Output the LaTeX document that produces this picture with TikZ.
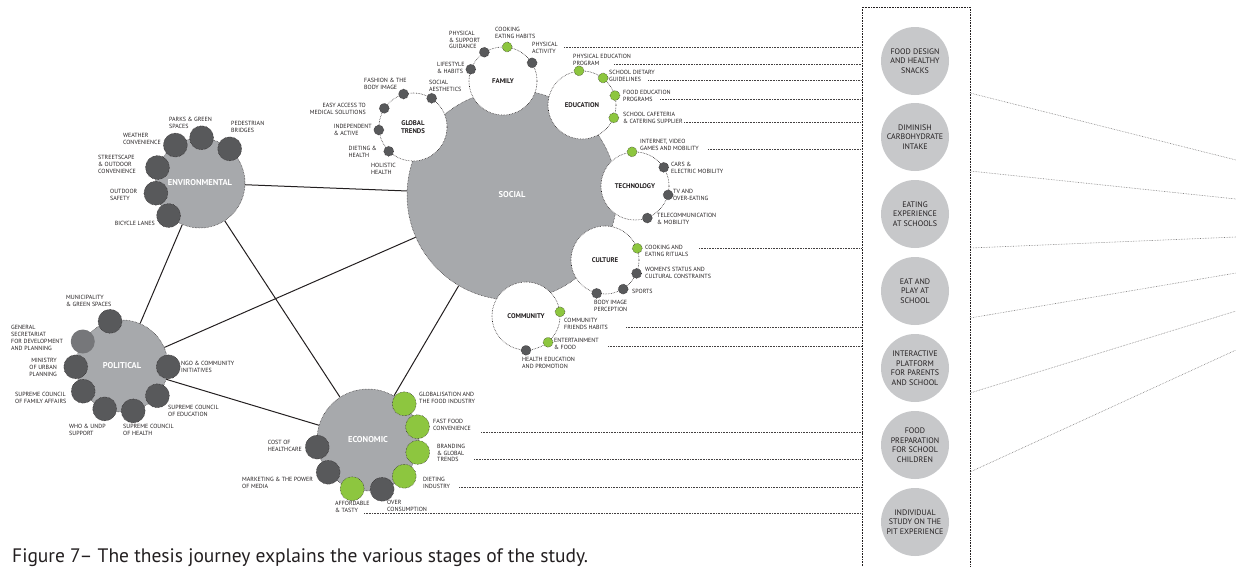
\documentclass[tikz,border=0pt]{standalone}
\usepackage{fontspec}
\setmainfont{PT Sans}
\usepackage{tikz}
\usetikzlibrary{positioning, backgrounds, calc}
\definecolor{hubGray}{HTML}{A7A9AC}
\definecolor{dotGray}{HTML}{58595B}
\definecolor{leafGreen}{HTML}{8DC63F}
\definecolor{padGray}{HTML}{C7C8CA}
\definecolor{secGray}{HTML}{76777A}
\definecolor{inkDark}{HTML}{231F20}

\begin{document}
\begin{tikzpicture}[
    x=1pt, y=-1pt,
    hub/.style={circle, fill=hubGray, draw=inkDark, densely dotted, line width=0.5pt, inner sep=0pt, minimum size=#1, text=white, font=\fontsize{8.5}{9.5}\selectfont\bfseries},
    topic/.style={circle, fill=white, draw=inkDark, densely dotted, line width=0.6pt, inner sep=0pt, minimum size=68pt, text=inkDark, align=center, font=\fontsize{6.8}{7.8}\selectfont\bfseries},
    dot/.style={circle, fill=dotGray, draw=inkDark, densely dotted, line width=0.5pt, inner sep=0pt, minimum size=10pt},
    bigdot/.style={dot, minimum size=24pt},
    leaf/.style={fill=leafGreen},
    lab/.style={inner sep=0pt, text=inkDark, align=left, font=\fontsize{6}{6.8}\selectfont},
    pad/.style={circle, fill=padGray, inner sep=0pt, minimum size=68pt, align=center, text=inkDark, font=\fontsize{8}{9.5}\selectfont},
    link/.style={line width=1pt, draw=inkDark},
    leader/.style={densely dotted, line width=0.6pt, draw=inkDark!85},
    faint/.style={densely dotted, line width=0.6pt, draw=inkDark!60}
]
\useasboundingbox (0,0) rectangle (1236,566);

% Main themes
\node[hub=210pt] (soc) at (512,195) {SOCIAL};
\node[hub=90pt] (env) at (200,183) {ENVIRONMENTAL};
\node[hub=92pt] (pol) at (122,366) {POLITICAL};
\node[hub=102pt] (eco) at (368,440) {ECONOMIC};

\begin{scope}[on background layer]
\draw[link] (env) -- (soc);
\draw[link] (env) -- (pol);
\draw[link] (env) -- (eco);
\draw[link] (pol) -- (soc);
\draw[link] (pol) -- (eco);
\draw[link] (eco) -- (soc);
\end{scope}

% Social sub-themes
\node[topic] (fam) at (503,81) {FAMILY};
\node[topic] (glob) at (413,127) {GLOBAL\\TRENDS};
\node[topic] (edu) at (582,105) {EDUCATION};
\node[topic] (tech) at (635,186) {TECHNOLOGY};
\node[topic] (cult) at (605,260) {CULTURE};
\node[topic] (comm) at (526,316) {COMMUNITY};

% Family
\node[dot] (fa1) at (fam.123) {};
\node[dot] (fa2) at (fam.160) {};
\node[dot, leaf] (fa3) at (fam.83) {};
\node[dot] (fa4) at (fam.32) {};
\node[lab, anchor=west] (fa1l) at (449,40) {PHYSICAL\\\& SUPPORT\\GUIDANCE};
\node[lab, anchor=west] (fa2l) at (437,67.5) {LIFESTYLE\\\& HABITS};
\node[lab, anchor=west] (fa3l) at (495,33) {COOKING\\EATING HABITS};
\node[lab, anchor=west] (fa4l) at (532,48) {PHYSICAL\\ACTIVITY};

% Global trends
\node[dot] (gl1) at (glob.106) {};
\node[dot] (gl2) at (glob.57) {};
\node[dot] (gl3) at (glob.147) {};
\node[dot] (gl4) at (glob.185) {};
\node[dot] (gl5) at (glob.225) {};
\node[lab, anchor=west] (gl1l) at (364,84) {FASHION \& THE\\BODY IMAGE};
\node[lab, anchor=west] (gl2l) at (429,86) {SOCIAL\\AESTHETICS};
\node[lab, anchor=east, align=right] (gl3l) at (366,109) {EASY ACCESS TO\\MEDICAL SOLUTIONS};
\node[lab, anchor=east] (gl4l) at (372,130) {INDEPENDENT\\\& ACTIVE};
\node[lab, anchor=east] (gl5l) at (377,152) {DIETING \&\\HEALTH};
\node[lab, anchor=west] (gl6l) at (371,169) {HOLISTIC\\HEALTH};

% Education
\node[dot, leaf] (ed1) at (edu.95) {};
\node[dot, leaf] (ed2) at (edu.52) {};
\node[dot, leaf] (ed3) at (edu.16) {};
\node[dot, leaf] (ed4) at (edu.338) {};
\node[lab, anchor=west] (ed1l) at (573,59.5) {PHYSICAL EDUCATION\\PROGRAM};
\node[lab, anchor=west] (ed2l) at (609,76) {SCHOOL DIETARY\\GUIDELINES};
\node[lab, anchor=west] (ed3l) at (623,95.5) {FOOD EDUCATION\\PROGRAMS};
\node[lab, anchor=west] (ed4l) at (623,118) {SCHOOL CAFETERIA\\\& CATERING SUPPLIER};

% Technology
\node[dot, leaf] (te1) at (tech.95) {};
\node[dot] (te2) at (tech.33) {};
\node[dot] (te3) at (tech.345) {};
\node[dot] (te4) at (tech.291) {};
\node[lab, anchor=west] (te1l) at (640,145) {INTERNET, VIDEO\\GAMES AND MOBILITY};
\node[lab, anchor=west] (te2l) at (671,168) {CARS \&\\ELECTRIC MOBILITY};
\node[lab, anchor=west] (te3l) at (673,195) {TV AND\\OVER-EATING};
\node[lab, anchor=west] (te4l) at (657,219) {TELECOMMUNICATION\\\& MOBILITY};

% Culture
\node[dot, leaf] (cu1) at (cult.20) {};
\node[dot] (cu2) at (cult.337) {};
\node[dot] (cu3) at (cult.302) {};
\node[dot] (cu4) at (cult.256) {};
\node[lab, anchor=west] (cu1l) at (645,251) {COOKING AND\\EATING RITUALS};
\node[lab, anchor=west] (cu2l) at (645,273) {WOMEN'S STATUS AND\\CULTURAL CONSTRAINTS};
\node[lab, anchor=west] (cu3l) at (632,291) {SPORTS};
\node[lab, anchor=west] (cu4l) at (594,306) {BODY IMAGE\\PERCEPTION};

% Community
\node[dot, leaf] (co1) at (comm.7) {};
\node[dot, leaf] (co2) at (comm.310) {};
\node[dot] (co3) at (comm.270) {};
\node[lab, anchor=west] (co1l) at (564,324) {COMMUNITY\\FRIENDS HABITS};
\node[lab, anchor=west] (co2l) at (554,344) {ENTERTAINMENT\\\& FOOD};
\node[lab, anchor=west] (co3l) at (522,363) {HEALTH EDUCATION\\AND PROMOTION};

% Environmental
\node[bigdot] (en1) at (env.123) {};
\node[bigdot] (en2) at (env.88) {};
\node[bigdot] (en3) at (env.49) {};
\node[bigdot] (en4) at (env.160) {};
\node[bigdot] (en5) at (env.193) {};
\node[bigdot] (en6) at (env.226) {};
\node[lab, anchor=east] (en1l) at (161,138.5) {WEATHER\\CONVENIENCE};
\node[lab, anchor=west] (en2l) at (169,122.5) {PARKS \& GREEN\\SPACES};
\node[lab, anchor=west] (en3l) at (231,127) {PEDESTRIAN\\BRIDGES};
\node[lab, anchor=west] (en4l) at (98,164.5) {STREETSCAPE\\\& OUTDOOR\\CONVENIENCE};
\node[lab, anchor=west] (en5l) at (110,194.5) {OUTDOOR\\SAFETY};
\node[lab, anchor=east] (en6l) at (155,223) {BICYCLE LANES};

% Political
\node[bigdot] (po1) at (pol.105) {};
\node[bigdot, fill=secGray, draw=none] (po2) at (pol.148) {};
\node[bigdot] (po3) at (pol.181) {};
\node[bigdot] (po4) at (pol.213) {};
\node[bigdot] (po5) at (pol.248) {};
\node[bigdot] (po6) at (pol.284) {};
\node[bigdot] (po7) at (pol.320) {};
\node[bigdot] (po8) at (pol.359) {};
\node[lab, anchor=west] (po1l) at (66,301) {MUNICIPALITY\\\& GREEN SPACES};
\node[lab, anchor=west] (po2l) at (11,338) {GENERAL\\SECRETARIAT\\FOR DEVELOPMENT\\AND PLANNING};
\node[lab, anchor=east, align=right] (po3l) at (57,367.5) {MINISTRY\\OF URBAN\\PLANNING};
\node[lab, anchor=west] (po4l) at (15,397.5) {SUPREME COUNCIL\\OF FAMILY AFFAIRS};
\node[lab, anchor=west] (po5l) at (69,430) {WHO \& UNDP\\SUPPORT};
\node[lab, anchor=west] (po6l) at (123,430) {SUPREME COUNCIL\\OF HEALTH};
\node[lab, anchor=west] (po7l) at (168,410.5) {SUPREME COUNCIL\\OF EDUCATION};
\node[lab, anchor=west] (po8l) at (181,366.5) {NGO \& COMMUNITY\\INITIATIVES};

% Economic
\node[bigdot, leaf] (ec1) at (eco.45) {};
\node[bigdot, leaf] (ec2) at (eco.15) {};
\node[bigdot, leaf] (ec3) at (eco.346) {};
\node[bigdot, leaf] (ec4) at (eco.315) {};
\node[bigdot] (ec5) at (eco.286) {};
\node[bigdot, leaf] (ec6) at (eco.252) {};
\node[bigdot] (ec7) at (eco.219) {};
\node[bigdot] (ec8) at (eco.188) {};
\node[lab, anchor=west] (ec1l) at (419,397.5) {GLOBALISATION AND\\THE FOOD INDUSTRY};
\node[lab, anchor=west] (ec2l) at (433,424.5) {FAST FOOD\\CONVENIENCE};
\node[lab, anchor=west] (ec3l) at (437,453) {BRANDING\\\& GLOBAL\\TRENDS};
\node[lab, anchor=west] (ec4l) at (423,482.5) {DIETING\\INDUSTRY};
\node[lab, anchor=west] (ec5l) at (387,505.5) {OVER\\CONSUMPTION};
\node[lab, anchor=west] (ec6l) at (335,507) {AFFORDABLE\\\& TASTY};
\node[lab, anchor=west] (ec7l) at (242,483) {MARKETING \& THE POWER\\OF MEDIA};
\node[lab, anchor=east] (ec8l) at (302,445.5) {COST OF\\HEALTHCARE};

% Proposals column
\coordinate (boxL) at (862,7);
\coordinate (boxR) at (970,7);
\draw[densely dotted, line width=0.6pt, draw=inkDark] (boxL |- 0,566) -- (boxL) -- (boxR) -- (boxR |- 0,566);
\node[pad] (p1) at (915,61) {FOOD DESIGN\\AND HEALTHY\\SNACKS};
\node[pad] (p2) at (915,137) {DIMINISH\\CARBOHYDRATE\\INTAKE};
\node[pad] (p3) at (915,214) {EATING\\EXPERIENCE\\AT SCHOOLS};
\node[pad] (p4) at (915,291) {EAT AND\\PLAY AT\\SCHOOL};
\node[pad] (p5) at (915,368) {INTERACTIVE\\PLATFORM\\FOR PARENTS\\AND SCHOOL};
\node[pad] (p6) at (915,445) {FOOD\\PREPARATION\\FOR SCHOOL\\CHILDREN};
\node[pad] (p7) at (915,522) {INDIVIDUAL\\STUDY ON THE\\PIT EXPERIENCE};

% Leaders to the column
\coordinate (lf1) at (564,47);
\coordinate (le1) at (614,64);
\coordinate (le2) at (648,80);
\coordinate (le3) at (660,99);
\coordinate (le4) at (684,122);
\coordinate (lt1) at (708,149);
\coordinate (lc1) at (699,248);
\coordinate (lm1) at (626,327);
\coordinate (lm2) at (608,346);
\coordinate (lx1) at (481,432);
\coordinate (lx2) at (474,459);
\coordinate (lx3) at (459,487);
\coordinate (lx4) at (364,513);
\draw[leader] (lf1) -- (lf1 -| boxL);
\draw[leader] (le1) -- (le1 -| boxL);
\draw[leader] (le2) -- (le2 -| boxL);
\draw[leader] (le3) -- (le3 -| boxL);
\draw[leader] (le4) -- (le4 -| boxL);
\draw[leader] (lt1) -- (lt1 -| boxL);
\draw[leader] (lc1) -- (lc1 -| boxL);
\draw[leader] (lm1) -- (lm1 -| boxL);
\draw[leader] (lm2) -- (lm2 -| boxL);
\draw[leader] (lx1) -- (lx1 -| boxL);
\draw[leader] (lx2) -- (lx2 -| boxL);
\draw[leader] (lx3) -- (lx3 -| boxL);
\draw[leader] (lx4) -- (lx4 -| boxL);

% Fan out to the right
\coordinate (out1) at (970,93);   \coordinate (end1) at (1236,160);
\coordinate (out2) at (970,171);  \coordinate (end2) at (1236,199);
\coordinate (out3) at (970,248);  \coordinate (end3) at (1236,237);
\coordinate (out4) at (970,318);  \coordinate (end4) at (1236,273);
\coordinate (out5) at (970,393);  \coordinate (end5) at (1236,311);
\coordinate (out6) at (970,472);  \coordinate (end6) at (1236,350);
\draw[faint] (out1) -- (end1);
\draw[faint] (out2) -- (end2);
\draw[faint] (out3) -- (end3);
\draw[faint] (out4) -- (end4);
\draw[faint] (out5) -- (end5);
\draw[faint] (out6) -- (end6);

% Caption
\node[anchor=base west, inner sep=0pt, text=inkDark, font=\fontsize{19.5}{22}\selectfont] (cap) at (12,562) {Figure 7– The thesis journey explains the various stages of the study.};
\end{tikzpicture}
\end{document}
